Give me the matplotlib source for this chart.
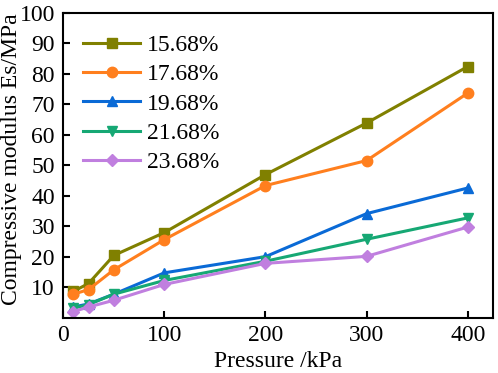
import matplotlib
matplotlib.use('Agg')
import matplotlib.pyplot as plt

pressure = [10, 25, 50, 100, 200, 300, 400]
labels = ['15.68%', '17.68%', '19.68%', '21.68%', '23.68%']
es_1568 = [8.7, 11.3, 20.5, 28.0, 47.0, 63.9, 82.4]
es_1768 = [7.8, 9.3, 15.8, 25.7, 43.4, 51.6, 73.7]
es_1968 = [3.6, 4.6, 7.8, 14.8, 20.1, 34.2, 42.6]
es_2168 = [3.2, 4.4, 7.8, 12.3, 18.6, 25.8, 32.8]
es_2368 = [2.1, 3.6, 5.8, 11.0, 17.9, 20.2, 29.8]

series = [es_1568, es_1768, es_1968, es_2168, es_2368]
colors = ['#808000', '#ff7f1e', '#0a6ad6', '#16a874', '#c07fdf']
markers = ['s', 'o', '^', 'v', 'D']

plt.rcParams.update({'font.family': 'Liberation Serif', 'font.size': 17})
fig = plt.figure(figsize=(4.98, 3.73), dpi=100)
ax = fig.add_axes([0.127, 0.1475, 0.863, 0.818])

for ys, lbl, c, m in zip(series, labels, colors, markers):
    ms = 6.5 if m == 'D' else 7.5
    ax.plot(pressure, ys, color=c, marker=m, lw=2.2, ms=ms, label=lbl)

ax.set_xlim(0, 425)
ax.set_ylim(0, 100)
ax.set_xticks([0, 100, 200, 300, 400])
ax.set_yticks(range(10, 101, 10))
ax.tick_params(direction='in', length=5, width=1.5, labelsize=17)
ax.tick_params(axis='y', pad=6)
ax.tick_params(axis='x', pad=5)
for s in ax.spines.values():
    s.set_linewidth(1.5)

ax.set_xlabel('Pressure /kPa', fontsize=17, labelpad=4)
ax.set_ylabel('Compressive modulus Es/MPa', fontsize=17)
ax.yaxis.set_label_coords(-0.096, 0.52)

ax.legend(loc='upper left', frameon=False, handlelength=2.4, labelspacing=0.33,
          handletextpad=0.3, borderaxespad=0.0, bbox_to_anchor=(0.025, 0.96))

fig.savefig('out.png', dpi=100)
